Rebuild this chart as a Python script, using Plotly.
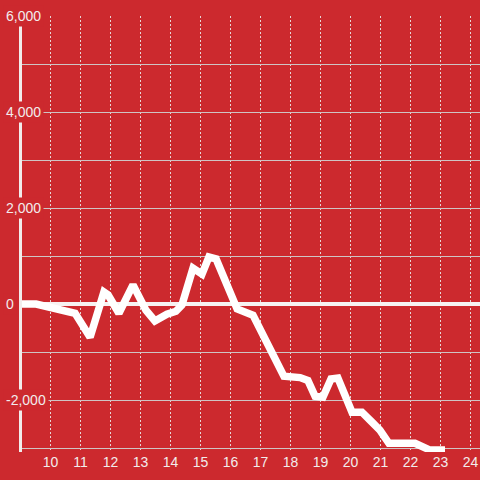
import plotly.graph_objects as go

# data
x_vals = [9.0, 9.52, 10.82, 11.32, 11.78, 11.92, 12.28, 12.75, 13.18, 13.48, 13.88, 14.18,
          14.38, 14.75, 15.05, 15.28, 15.52, 16.22, 16.75, 17.78, 18.32, 18.58, 18.82,
          19.08, 19.35, 19.58, 20.05, 20.38, 20.72, 20.98, 21.28, 22.15, 22.65, 23.15]
y_vals = [0, 0, -190, -690, 250, 190, -190, 400, -125, -350, -210, -150,
          -20, 750, 625, 980, 940, -100, -230, -1500, -1530, -1590, -1920,
          -1940, -1560, -1540, -2250, -2250, -2460, -2625, -2900, -2900, -3040, -3040]

x_ticks = list(range(10, 25))
x_tick_labels = [str(v) for v in x_ticks]
y_ticks = [6000, 4000, 2000, 0, -2000]
y_tick_labels = ["6,000", "4,000", "2,000", "0", "-2,000"]

BG = "#cc292e"
TXT = "#f2ecec"
FONT = "Liberation Sans, Arial, sans-serif"

W, H = 480, 480
L, R, T = 22, 0, 16
y_lo, y_hi = -3080, 6000
plot_h = (y_hi - y_lo) * 0.048
B = H - T - plot_h

fig = go.Figure()
fig.add_trace(go.Scatter(
    x=x_vals, y=y_vals, mode="lines",
    line=dict(color="#ffffff", width=7.5),
    hoverinfo="skip", showlegend=False,
))

x_left = 9 + (L - 20.5) / 30
x_right = 9 + (W - 20.5) / 30

fig.update_layout(
    width=W, height=H,
    margin=dict(l=L, r=R, t=T, b=B, pad=0),
    paper_bgcolor=BG, plot_bgcolor=BG,
    font=dict(family=FONT, size=14, color=TXT),
    showlegend=False,
    xaxis=dict(
        range=[x_left, x_right],
        tickvals=x_ticks, ticktext=x_tick_labels,
        showgrid=True, gridcolor="#e6d6d6", gridwidth=1, griddash="2px,2px",
        zeroline=False, showline=False, ticks="",
        tickfont=dict(family=FONT, size=14, color=TXT),
        fixedrange=True,
    ),
    yaxis=dict(
        range=[y_lo, y_hi],
        tickmode="linear", tick0=0, dtick=1000,
        showticklabels=False,
        showgrid=True, gridcolor="#cfc4c4", gridwidth=1,
        zeroline=True, zerolinecolor="#f7f2f2", zerolinewidth=4,
        showline=True, linecolor="#f2ecec", linewidth=3,
        ticks="",
        fixedrange=True,
    ),
)

plot_w = W - L - R
for val, lab in zip(y_ticks, y_tick_labels):
    fig.add_annotation(
        x=(3 - L) / plot_w, xref="paper", xanchor="left",
        y=val, yref="y", yanchor="middle",
        text=lab, showarrow=False,
        bgcolor=BG, borderpad=2,
        font=dict(family=FONT, size=14, color=TXT),
    )

fig.write_html(
    "out.html",
    config={"displayModeBar": False},
    post_script="document.body.style.margin='0';document.body.style.background='%s';" % BG,
)
